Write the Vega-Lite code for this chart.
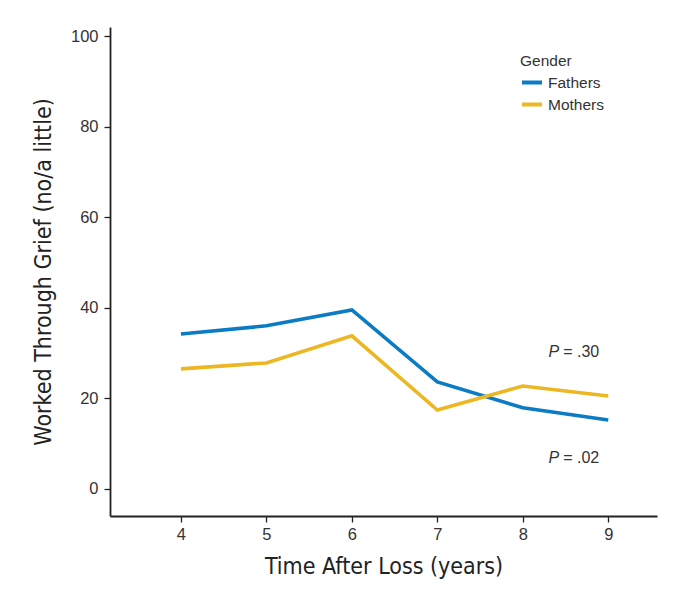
{
  "$schema": "https://vega.github.io/schema/vega-lite/v6.json",
  "autosize": {"type": "none"},
  "padding": {"left": 110, "top": 27, "right": 17, "bottom": 82},
  "width": 547,
  "height": 489,
  "background": "white",
  "config": {
    "view": {"stroke": null},
    "font": "Liberation Sans",
    "axis": {
      "domainColor": "#222",
      "domainWidth": 1.8,
      "tickColor": "#222",
      "tickWidth": 1.3,
      "tickSize": 6,
      "grid": false,
      "labelColor": "#333",
      "labelFontSize": 16.5,
      "labelFont": "Liberation Sans",
      "titleFont": "Liberation Sans Narrow, DejaVu Sans Condensed, Roboto Condensed, Roboto",
      "titleFontWeight": "normal",
      "titleFontSize": 23,
      "titleColor": "#222"
    }
  },
  "data": {
    "values": [
      {"year": 4, "value": 34.2, "gender": "Fathers"},
      {"year": 5, "value": 36.0, "gender": "Fathers"},
      {"year": 6, "value": 39.5, "gender": "Fathers"},
      {"year": 7, "value": 23.6, "gender": "Fathers"},
      {"year": 8, "value": 17.9, "gender": "Fathers"},
      {"year": 9, "value": 15.2, "gender": "Fathers"},
      {"year": 4, "value": 26.5, "gender": "Mothers"},
      {"year": 5, "value": 27.8, "gender": "Mothers"},
      {"year": 6, "value": 33.8, "gender": "Mothers"},
      {"year": 7, "value": 17.4, "gender": "Mothers"},
      {"year": 8, "value": 22.7, "gender": "Mothers"},
      {"year": 9, "value": 20.5, "gender": "Mothers"}
    ]
  },
  "layer": [
    {
      "mark": {"type": "line", "strokeWidth": 3.6, "strokeJoin": "miter"},
      "encoding": {
        "x": {
          "field": "year", "type": "quantitative",
          "scale": {"domain": [3.17, 9.57], "nice": false, "zero": false},
          "axis": {"values": [4, 5, 6, 7, 8, 9], "format": "d", "title": "Time After Loss (years)", "labelPadding": 4, "titlePadding": 13}
        },
        "y": {
          "field": "value", "type": "quantitative",
          "scale": {"domain": [-6, 102], "nice": false},
          "axis": {"values": [0, 20, 40, 60, 80, 100], "format": "d", "title": "Worked Through Grief (no/a little)", "labelPadding": 6, "titlePadding": 15}
        },
        "color": {
          "field": "gender", "type": "nominal",
          "scale": {"domain": ["Fathers", "Mothers"], "range": ["#0b7bc4", "#ebb823"]},
          "legend": {
            "title": "Gender",
            "orient": "none",
            "legendX": 410,
            "legendY": 27,
            "symbolType": "stroke",
            "symbolSize": 400,
            "symbolStrokeWidth": 4,
            "titleFontSize": 15.5,
            "titleFontWeight": "normal",
            "titleColor": "#333",
            "titleFont": "Liberation Sans",
            "labelFontSize": 15.5,
            "labelColor": "#333",
            "labelFont": "Liberation Sans",
            "rowPadding": 1,
            "titlePadding": 1
          }
        }
      }
    },
    {
      "data": {"values": [{"x": 8.59, "y": 30.3, "p": "P", "t": "= .30"}, {"x": 8.59, "y": 6.7, "p": "P", "t": "= .02"}]},
      "mark": {"type": "text", "align": "right", "baseline": "middle", "fontStyle": "italic", "fontSize": 16, "color": "#333", "dx": -14},
      "encoding": {
        "x": {"field": "x", "type": "quantitative"},
        "y": {"field": "y", "type": "quantitative"},
        "text": {"field": "p"}
      }
    },
    {
      "data": {"values": [{"x": 8.59, "y": 30.3, "p": "P", "t": "= .30"}, {"x": 8.59, "y": 6.7, "p": "P", "t": "= .02"}]},
      "mark": {"type": "text", "align": "left", "baseline": "middle", "fontSize": 16, "color": "#333", "dx": -10},
      "encoding": {
        "x": {"field": "x", "type": "quantitative"},
        "y": {"field": "y", "type": "quantitative"},
        "text": {"field": "t"}
      }
    }
  ]
}
